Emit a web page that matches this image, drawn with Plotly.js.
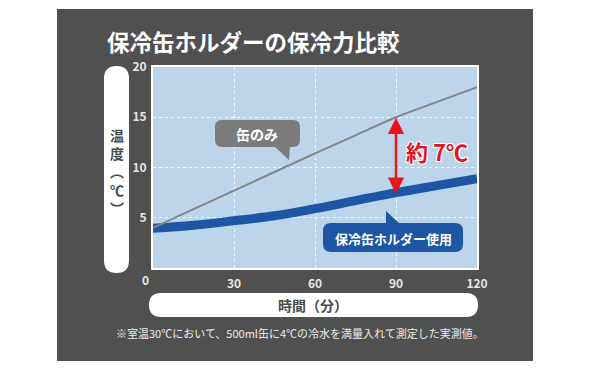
<!DOCTYPE html>
<html><head><meta charset="utf-8">
<script src="https://cdn.plot.ly/plotly-3.0.1.min.js"></script>
<style>html,body{margin:0;padding:0;background:#fff;}</style>
</head><body>
<div id="chart" style="width:600px;height:370px;"></div>
<script>
// ---- data ----
const time = [0, 15, 30, 45, 60, 75, 90, 105, 120];
const canOnly = [4.0, 5.85, 7.7, 9.55, 11.4, 13.2, 15.0, 16.5, 18.0];
const withHolder = [3.95, 4.25, 4.7, 5.2, 5.9, 6.7, 7.5, 8.2, 8.9];
const xTicks = [30, 60, 90, 120];
const yTicks = [5, 10, 15, 20];
const titleText = "保冷缶ホルダーの保冷力比較";
const yTitle = "温<br>度<br>︵<br>℃<br>︶";
const xTitle = "時間（分）";
const noteText = "※室温30℃において、500ml缶に4℃の冷水を満量入れて測定した実測値。";
const label1 = "缶のみ";
const label2 = "保冷缶ホルダー使用";
const diffText = "約 7℃";
const diffAt = 90;

// ---- geometry helpers (pixel -> paper) ----
const L = 153, R = 477, T = 67, B = 268;
const px = x => (x - L) / (R - L);
const py = y => (B - y) / (B - T);
function roundRect(x0, y0, x1, y1, r) {
  const rx = r / (R - L), ry = r / (B - T);
  const a = px(x0), b = px(x1), top = py(y0), bot = py(y1);
  return `M${a + rx},${top} L${b - rx},${top} Q${b},${top} ${b},${top - ry} ` +
         `L${b},${bot + ry} Q${b},${bot} ${b - rx},${bot} L${a + rx},${bot} ` +
         `Q${a},${bot} ${a},${bot + ry} L${a},${top - ry} Q${a},${top} ${a + rx},${top} Z`;
}
function tri(p) { return 'M' + p.map(q => px(q[0]) + ',' + py(q[1])).join(' L') + ' Z'; }

const FONT = "Noto Sans CJK JP, Noto Sans, sans-serif";
const traces = [
  { x: time, y: withHolder, type: 'scatter', mode: 'lines',
    line: { color: '#1d56a5', width: 9, shape: 'spline' }, hoverinfo: 'skip' },
  { x: time, y: canOnly, type: 'scatter', mode: 'lines',
    line: { color: '#858585', width: 2, shape: 'spline' }, hoverinfo: 'skip' }
];

const shapes = [
  { type: 'rect', xref: 'paper', yref: 'paper', layer: 'below',
    x0: px(57), x1: px(533), y0: py(361), y1: py(9), fillcolor: '#505050', line: { width: 0 } },
  { type: 'rect', xref: 'paper', yref: 'paper', layer: 'below',
    x0: 0, x1: 1, y0: 0, y1: 1, fillcolor: '#bcd5ea', line: { width: 0 } },
  { type: 'path', xref: 'paper', yref: 'paper', path: roundRect(104, 66, 129, 273, 12.5),
    fillcolor: '#ffffff', line: { width: 0 } },
  { type: 'path', xref: 'paper', yref: 'paper', path: roundRect(149, 293, 478, 317, 12),
    fillcolor: '#ffffff', line: { width: 0 } },
  { type: 'path', xref: 'paper', yref: 'paper', path: roundRect(215, 120, 300, 147, 7),
    fillcolor: '#7b7b7b', line: { width: 0 } },
  { type: 'path', xref: 'paper', yref: 'paper', path: tri([[274, 146], [290, 146], [289, 160]]),
    fillcolor: '#7b7b7b', line: { width: 0 } },
  { type: 'path', xref: 'paper', yref: 'paper', path: roundRect(323, 223, 463, 252, 8),
    fillcolor: '#1d56a5', line: { width: 0 } },
  { type: 'path', xref: 'paper', yref: 'paper', path: tri([[386, 211], [386, 224], [400, 224]]),
    fillcolor: '#1d56a5', line: { width: 0 } }
];

const white = '#ffffff';
const annotations = [
  { xref: 'paper', yref: 'paper', x: px(105), y: py(41), xanchor: 'left', yanchor: 'middle',
    text: titleText, showarrow: false, font: { family: FONT, size: 22.5, color: white, weight: 'bold' } },
  { xref: 'paper', yref: 'paper', x: px(117), y: py(171), xanchor: 'center', yanchor: 'middle',
    text: yTitle, showarrow: false, font: { family: FONT, size: 14, color: '#4a4a4a', weight: 'bold' } },
  { xref: 'paper', yref: 'paper', x: px(313), y: py(305), xanchor: 'center', yanchor: 'middle',
    text: xTitle, showarrow: false, font: { family: FONT, size: 14, color: '#4a4a4a', weight: 'bold' } },
  { xref: 'paper', yref: 'paper', x: px(300), y: py(333), xanchor: 'center', yanchor: 'middle',
    text: noteText, showarrow: false, font: { family: FONT, size: 11, color: '#ececec' } },
  { xref: 'paper', yref: 'paper', x: px(145), y: py(279), xanchor: 'center', yanchor: 'middle',
    text: '0', showarrow: false, font: { family: FONT, size: 12, color: '#e6e6e6', weight: 'bold' } },
  { xref: 'paper', yref: 'paper', x: px(257), y: py(133.5), xanchor: 'center', yanchor: 'middle',
    text: label1, showarrow: false, font: { family: FONT, size: 14, color: white, weight: 'bold' } },
  { xref: 'paper', yref: 'paper', x: px(393), y: py(238), xanchor: 'center', yanchor: 'middle',
    text: label2, showarrow: false, font: { family: FONT, size: 13, color: white, weight: 'bold' } },
  { xref: 'x', yref: 'y', x: diffAt, y: withHolder[6] - 0.1, ax: diffAt, ay: canOnly[6] + 0.1,
    axref: 'x', ayref: 'y', text: '', showarrow: true, arrowside: 'end+start',
    arrowhead: 2, arrowsize: 1.3, arrowwidth: 2.5, arrowcolor: '#e8141c', standoff: 0, startstandoff: 0 },
  { xref: 'paper', yref: 'paper', x: px(437), y: py(151), xanchor: 'center', yanchor: 'middle',
    text: diffText, showarrow: false,
    font: { family: FONT, size: 22, color: '#e8141c', weight: 'bold',
            shadow: '1px 1px 0 #fff, -1px -1px 0 #fff, 1px -1px 0 #fff, -1px 1px 0 #fff' } }
];

const axisCommon = {
  showline: true, linecolor: white, linewidth: 2, mirror: true,
  showgrid: true, gridcolor: 'rgba(255,255,255,0.85)', gridwidth: 1, griddash: 'dot',
  zeroline: false, ticks: '', fixedrange: true,
  tickfont: { family: FONT, size: 12, color: '#e6e6e6', weight: 'bold' }
};

const layout = {
  width: 600, height: 370,
  margin: { l: L, r: 600 - R, t: T, b: 370 - B, pad: 0 },
  paper_bgcolor: '#ffffff', plot_bgcolor: 'rgba(0,0,0,0)',
  showlegend: false,
  xaxis: Object.assign({}, axisCommon, { range: [0, 120], tickvals: xTicks, ticklabelstandoff: 4 }),
  yaxis: Object.assign({}, axisCommon, { range: [0, 20], tickvals: yTicks, ticklabelstandoff: 2 }),
  shapes: shapes,
  annotations: annotations
};

Plotly.newPlot('chart', traces, layout, { staticPlot: true, displayModeBar: false });
</script>
</body></html>
